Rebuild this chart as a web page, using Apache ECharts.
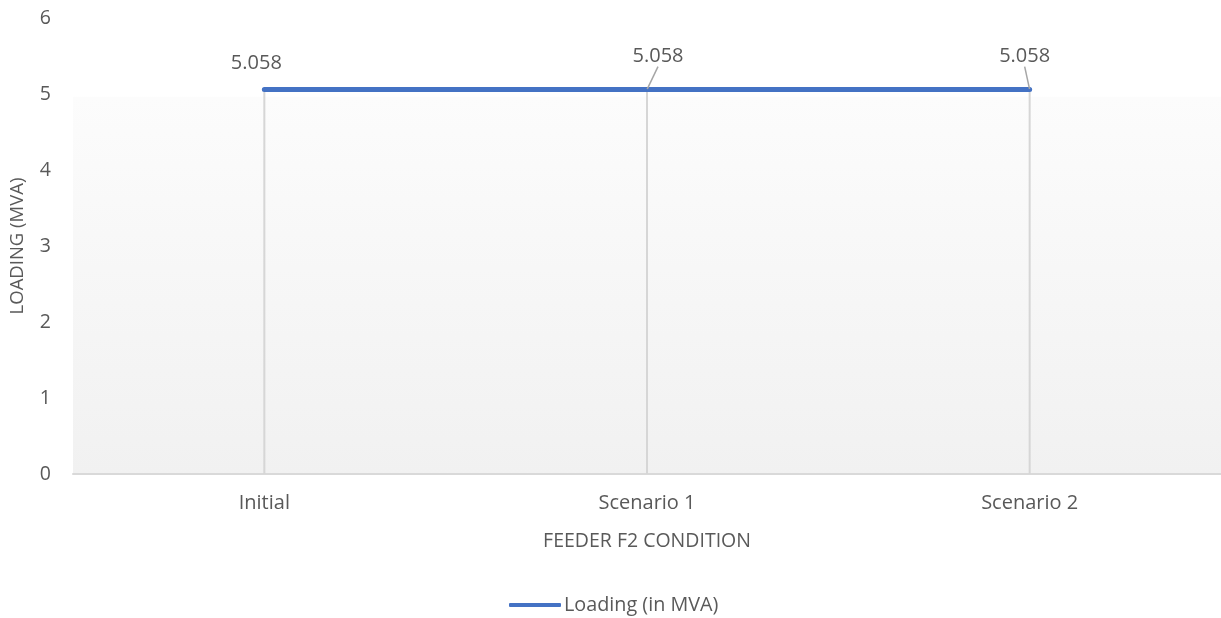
<!DOCTYPE html>
<html>
<head>
<meta charset="utf-8">
<script src="https://cdn.jsdelivr.net/npm/echarts@6/dist/echarts.min.js"></script>
<style>
  html, body { margin: 0; padding: 0; background: #fff; }
  #chart { width: 1221px; height: 618px; }
</style>
</head>
<body>
<div id="chart"></div>
<script>
const categories = ['Initial', 'Scenario 1', 'Scenario 2'];
const loading = [5.058, 5.058, 5.058];
// label nudges away from the point (px) and whether a leader line is drawn
const labelShift = [[-8, -26], [11, -33], [-5, -33]];
const showLeader = [false, true, true];

const myChart = echarts.init(document.getElementById('chart'));
const font = 'Open Sans';
const grey = '#595959';

const lineData = loading.map((v, i) => ({
    value: v,
    labelLine: { show: showLeader[i] }
}));

const option = {
    animation: false,
    textStyle: { fontFamily: font },
    grid: {
        left: 73, right: -3, top: 18, bottom: 144,
        show: true,
        borderWidth: 0,
        backgroundColor: new echarts.graphic.LinearGradient(0, 0, 0, 1, [
            { offset: 0, color: '#ffffff' },
            { offset: 0.172, color: '#ffffff' },
            { offset: 0.173, color: '#fcfcfc' },
            { offset: 1, color: '#f1f1f1' }
        ])
    },
    legend: {
        bottom: -2,
        left: 504,
        itemWidth: 52,
        itemHeight: 4,
        itemGap: 0,
        data: [{ name: 'Loading (in MVA)', icon: 'roundRect' }],
        textStyle: { color: grey, fontSize: 19.8, fontFamily: font, padding: [0, 0, 0, -2] }
    },
    xAxis: {
        type: 'category',
        data: categories,
        name: 'FEEDER F2 CONDITION',
        nameLocation: 'middle',
        nameGap: 57,
        nameTextStyle: { color: grey, fontSize: 19.5 },
        axisLine: { lineStyle: { color: '#d9d9d9', width: 2 } },
        axisTick: { show: false },
        axisLabel: { color: grey, fontSize: 20, margin: 19 }
    },
    yAxis: {
        type: 'value',
        min: 0, max: 6, interval: 1,
        name: 'LOADING (MVA)',
        nameLocation: 'middle',
        nameGap: 46,
        nameTextStyle: { color: grey, fontSize: 18.5 },
        axisLine: { show: false },
        axisTick: { show: false },
        splitLine: { show: false },
        axisLabel: { color: grey, fontSize: 19.5, margin: 22 }
    },
    series: [
        {
            // drop lines from each point to the axis
            type: 'bar',
            data: loading,
            barWidth: 2,
            silent: true,
            itemStyle: { color: '#d6d6d6' },
            legendHoverLink: false
        },
        {
            name: 'Loading (in MVA)',
            type: 'line',
            data: lineData,
            symbol: 'circle',
            symbolSize: 1,
            showSymbol: true,
            lineStyle: { color: '#4472c4', width: 5, cap: 'round' },
            itemStyle: { color: '#4472c4' },
            label: {
                show: true,
                position: 'inside',
                color: grey,
                fontSize: 20,
                formatter: p => p.value.toFixed(3)
            },
            labelLine: { show: true, lineStyle: { color: '#a6a6a6', width: 1.5 } },
            labelLayout: p => ({
                dx: labelShift[p.dataIndex][0],
                dy: labelShift[p.dataIndex][1]
            }),
            z: 5
        }
    ]
};
myChart.setOption(option);
</script>
</body>
</html>
